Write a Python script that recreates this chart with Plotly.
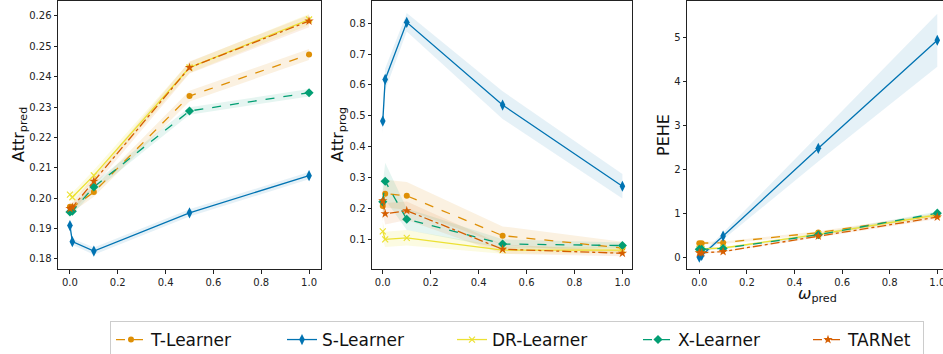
import plotly.graph_objects as go

W, H = 943, 354

omega = [0.0, 0.01, 0.1, 0.5, 1.0]
learners = ["T-Learner", "S-Learner", "DR-Learner", "X-Learner", "TARNet"]

# Panel 1: Attr_pred
pred_T = [0.1972, 0.1970, 0.2020, 0.2336, 0.2473]
pred_S = [0.1910, 0.1857, 0.1826, 0.1952, 0.2074]
pred_DR = [0.2012, 0.2003, 0.2075, 0.2430, 0.2588]
pred_X = [0.1955, 0.1957, 0.2037, 0.2287, 0.2347]
pred_TAR = [0.1966, 0.1970, 0.2056, 0.2430, 0.2583]
pred_T_sd = [0.0015, 0.0015, 0.0015, 0.0018, 0.0018]
pred_S_sd = [0.0010, 0.0010, 0.0012, 0.0012, 0.0012]
pred_DR_sd = [0.0015, 0.0015, 0.0018, 0.0018, 0.0018]
pred_X_sd = [0.0010, 0.0010, 0.0015, 0.0012, 0.0012]
pred_TAR_sd = [0.0015, 0.0015, 0.0018, 0.0020, 0.0020]

# Panel 2: Attr_prog
prog_T = [0.208, 0.248, 0.241, 0.112, 0.072]
prog_S = [0.483, 0.618, 0.803, 0.535, 0.272]
prog_DR = [0.126, 0.100, 0.105, 0.065, 0.065]
prog_X = [0.222, 0.288, 0.165, 0.085, 0.080]
prog_TAR = [0.225, 0.183, 0.193, 0.068, 0.055]
prog_T_sd = [0.050, 0.045, 0.045, 0.030, 0.020]
prog_S_sd = [0.040, 0.035, 0.030, 0.045, 0.040]
prog_DR_sd = [0.030, 0.025, 0.025, 0.012, 0.010]
prog_X_sd = [0.060, 0.060, 0.035, 0.015, 0.010]
prog_TAR_sd = [0.040, 0.035, 0.030, 0.015, 0.010]

# Panel 3: PEHE
pehe_T = [0.33, 0.33, 0.34, 0.57, 0.97]
pehe_S = [0.01, 0.05, 0.49, 2.48, 4.93]
pehe_DR = [0.20, 0.20, 0.22, 0.53, 0.97]
pehe_X = [0.19, 0.19, 0.21, 0.52, 1.01]
pehe_TAR = [0.11, 0.11, 0.14, 0.49, 0.92]
pehe_T_sd = [0.03, 0.03, 0.03, 0.03, 0.04]
pehe_S_sd = [0.03, 0.04, 0.08, 0.30, 0.60]
pehe_DR_sd = [0.02, 0.02, 0.02, 0.03, 0.04]
pehe_X_sd = [0.02, 0.02, 0.02, 0.03, 0.04]
pehe_TAR_sd = [0.02, 0.02, 0.02, 0.03, 0.04]

colors = {"T-Learner": "#DE8F05", "S-Learner": "#0173B2", "DR-Learner": "#ECE133",
          "X-Learner": "#029E73", "TARNet": "#D55E00"}
fills = {"T-Learner": "rgba(222,143,5,0.12)", "S-Learner": "rgba(1,115,178,0.10)",
         "DR-Learner": "rgba(236,225,51,0.15)", "X-Learner": "rgba(2,158,115,0.10)",
         "TARNet": "rgba(213,94,0,0.10)"}
dashes = {"T-Learner": "dash", "S-Learner": "solid", "DR-Learner": "solid",
          "X-Learner": "dash", "TARNet": "dashdot"}
symbols = {"T-Learner": "circle", "S-Learner": "diamond-tall", "DR-Learner": "x-thin",
           "X-Learner": "diamond", "TARNet": "star"}
msize = {"T-Learner": 6, "S-Learner": 8, "DR-Learner": 6, "X-Learner": 7, "TARNet": 7}
legw = {"T-Learner": 126, "S-Learner": 125, "DR-Learner": 141, "X-Learner": 125, "TARNet": 70}

panels = [
    ("x", "y", {"T-Learner": (pred_T, pred_T_sd), "S-Learner": (pred_S, pred_S_sd),
                "DR-Learner": (pred_DR, pred_DR_sd), "X-Learner": (pred_X, pred_X_sd),
                "TARNet": (pred_TAR, pred_TAR_sd)}),
    ("x2", "y2", {"T-Learner": (prog_T, prog_T_sd), "S-Learner": (prog_S, prog_S_sd),
                  "DR-Learner": (prog_DR, prog_DR_sd), "X-Learner": (prog_X, prog_X_sd),
                  "TARNet": (prog_TAR, prog_TAR_sd)}),
    ("x3", "y3", {"T-Learner": (pehe_T, pehe_T_sd), "S-Learner": (pehe_S, pehe_S_sd),
                  "DR-Learner": (pehe_DR, pehe_DR_sd), "X-Learner": (pehe_X, pehe_X_sd),
                  "TARNet": (pehe_TAR, pehe_TAR_sd)}),
]

fig = go.Figure()
for pi, (xa, ya, data) in enumerate(panels):
    for name in learners:
        vals, sd = data[name]
        up = [v + s for v, s in zip(vals, sd)]
        lo = [v - s for v, s in zip(vals, sd)]
        fig.add_trace(go.Scatter(x=omega, y=up, xaxis=xa, yaxis=ya, mode="lines",
                                 line=dict(width=0), showlegend=False, hoverinfo="skip"))
        fig.add_trace(go.Scatter(x=omega, y=lo, xaxis=xa, yaxis=ya, mode="lines",
                                 line=dict(width=0), fill="tonexty", fillcolor=fills[name],
                                 showlegend=False, hoverinfo="skip"))
    for name in learners:
        vals, sd = data[name]
        c = colors[name]
        fig.add_trace(go.Scatter(
            x=omega, y=vals, xaxis=xa, yaxis=ya, mode="lines+markers", name=name,
            line=dict(color=c, width=1.3, dash=dashes[name]),
            marker=dict(symbol=symbols[name], size=msize[name], color=c,
                        line=dict(color=c, width=1.2 if name == "DR-Learner" else 0)),
            showlegend=(pi == 0), legendwidth=legw[name]))

ydom = [1 - 269 / H, 1 - 1 / H]
axis_common = dict(showgrid=False, zeroline=False, showline=True, linecolor="#222",
                   linewidth=1, ticks="outside", ticklen=3.5, tickwidth=0.8, tickcolor="#222",
                   tickfont=dict(family="DejaVu Sans", size=10, color="#222"), automargin=False,
                   ticklabeloverflow="allow")

xticks = [0, 0.2, 0.4, 0.6, 0.8, 1.0]
xtext = ["0.0", "0.2", "0.4", "0.6", "0.8", "1.0"]

fig.update_layout(
    width=W, height=H,
    margin=dict(l=0, r=0, t=0, b=0, autoexpand=False),
    paper_bgcolor="white", plot_bgcolor="white",
    font=dict(family="DejaVu Sans", color="#222"),
    xaxis=dict(domain=[58 / W, 321 / W], range=[-0.05, 1.05], tickvals=xticks, ticktext=xtext,
               mirror=True, anchor="y", **axis_common),
    yaxis=dict(domain=ydom, range=[0.1767, 0.2649],
               tickvals=[0.18, 0.19, 0.20, 0.21, 0.22, 0.23, 0.24, 0.25, 0.26],
               ticktext=["0.18", "0.19", "0.20", "0.21", "0.22", "0.23", "0.24", "0.25", "0.26"],
               mirror=True, anchor="x", **axis_common),
    xaxis2=dict(domain=[372 / W, 632 / W], range=[-0.045, 1.04], tickvals=xticks, ticktext=xtext,
                mirror=True, anchor="y2", **axis_common),
    yaxis2=dict(domain=ydom, range=[0.004, 0.872],
                tickvals=[0.1, 0.2, 0.3, 0.4, 0.5, 0.6, 0.7, 0.8],
                ticktext=["0.1", "0.2", "0.3", "0.4", "0.5", "0.6", "0.7", "0.8"],
                mirror=True, anchor="x2", **axis_common),
    xaxis3=dict(domain=[687 / W, 1.0], range=[-0.0517, 1.024], tickvals=xticks, ticktext=xtext,
                mirror=True, anchor="y3", **axis_common),
    yaxis3=dict(domain=ydom, range=[-0.256, 5.82], tickvals=[0, 1, 2, 3, 4, 5],
                ticktext=["0", "1", "2", "3", "4", "5"], mirror=False, anchor="x3", **axis_common),
    legend=dict(orientation="h", x=110 / W, xanchor="left", y=1 - 321 / H, yanchor="top",
                bordercolor="#cccccc", borderwidth=1, bgcolor="white", traceorder="normal",
                font=dict(family="DejaVu Sans", size=17, color="#111")),
    showlegend=True,
)

title_font = dict(family="DejaVu Sans", size=16, color="#111")
for txt, px, py, ang in [("Attr<sub>pred</sub>", 19, 135, -90), ("Attr<sub>prog</sub>", 338, 135, -90),
                         ("PEHE", 663, 135, -90), ("<i>ω</i><sub>pred</sub>", 817, 294, 0)]:
    fig.add_annotation(text=txt, x=px / W, y=1 - py / H, xref="paper", yref="paper",
                       xanchor="center", yanchor="middle", textangle=ang, showarrow=False,
                       font=title_font)

fig.write_html("out.html", config={"displayModeBar": False},
               post_script="document.body.style.margin='0';document.body.style.overflow='hidden';")
